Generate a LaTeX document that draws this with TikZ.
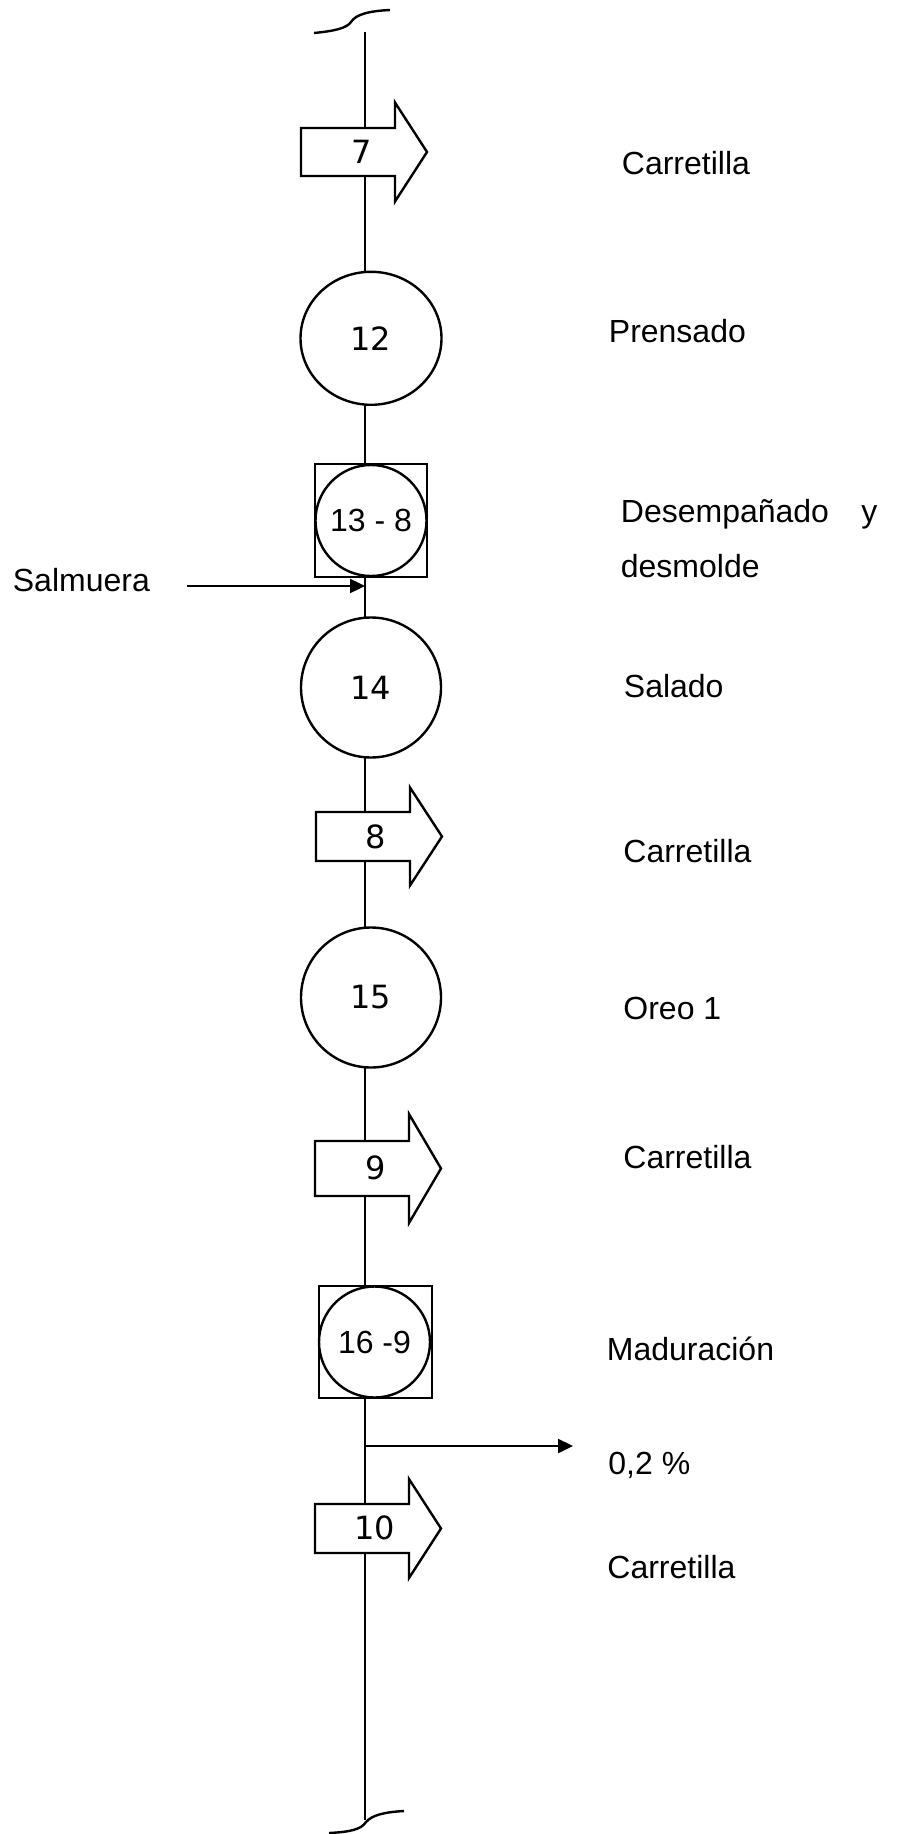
\documentclass[tikz,border=0pt]{standalone}
\usepackage{fontspec}
\setmainfont{Liberation Sans}
\newfontfamily\numfont{DejaVu Sans}
\usetikzlibrary{arrows.meta,shapes.geometric}
\tikzset{
	trazo/.style={line width=1.2pt},
	oper/.style={trazo, draw, fill=white, circle, inner sep=0pt, minimum size=70pt, font=\numfont\fontsize{16}{19}\selectfont},
	insp/.style={trazo, draw, fill=white, rectangle, inner sep=0pt, minimum size=56.25pt},
	combo/.style={trazo, draw, circle, inner sep=0pt, minimum size=55.5pt, font=\fontsize{16}{19}\selectfont},
	numtr/.style={inner sep=0pt, font=\numfont\fontsize{16}{19}\selectfont},
	etiq/.style={anchor=base west, inner sep=0pt, font=\fontsize{16}{19}\selectfont},
	flecha/.style={trazo, -{Triangle[length=7.5pt,width=7pt]}}
}
\def\carretilla(#1,#2)[#3,#4]{\draw[trazo, fill=white] (#1,{#2-#3}) -- ({#1+94},{#2-#3}) -- ({#1+94},{#2-#4}) -- ({#1+126},#2) -- ({#1+94},{#2+#4}) -- ({#1+94},{#2+#3}) -- (#1,{#2+#3}) -- cycle;}

\begin{document}
\begin{tikzpicture}[x=0.5pt, y=-0.5pt]
			%%%%% START %%%%%
			\useasboundingbox (0,0) rectangle (899,1834);
			
			\coordinate (arriba) at (365,32);
			\coordinate (abajo) at (365,1820);
			\draw[trazo] (arriba) -- (abajo);
			
			\draw[trazo] (314,33) .. controls (335,31) and (347,28) .. (351,22) .. controls (356,14) and (370,11) .. (390,10);
			\draw[trazo] (329,1833) .. controls (348,1832) and (361,1830) .. (366,1822) .. controls (372,1815) and (385,1812) .. (404,1811);
			
			\carretilla(301,152)[24,49.5]
			\node[numtr] (t7) at (362,152) {7};
			
			\node[oper, shape=ellipse, minimum width=70.5pt, minimum height=66.5pt] (o12) at (371,338.3) {12};
			
			\node[insp] (c13) at (371,520.5) {};
			\node[combo] (o13) at (c13) {13 - 8};
			
			\node[oper] (o14) at (371,687.5) {14};
			
			\carretilla(316,836.5)[24.5,49]
			\node[numtr] (t8) at (376,837) {8};
			
			\node[oper] (o15) at (371,997.5) {15};
			
			\carretilla(315,1168.5)[27.5,54.5]
			\node[numtr] (t9) at (376,1168) {9};
			
			\node[insp] (c16) at (375.5,1342) {};
			\node[combo] (o16) at (374.5,1342) {16 -9\ };
			
			\carretilla(315,1528.5)[24.5,49.5]
			\node[numtr] (t10) at (375,1528) {10};
			
			\node[etiq] (sal) at (12.5,591) {Salmuera};
			\coordinate (salIni) at (187,586);
			\coordinate (salFin) at (365,586);
			\draw[flecha] (salIni) -- (salFin);
			
			\coordinate (merma) at (365,1446);
			\coordinate (mermaFin) at (573,1446);
			\draw[flecha] (merma) -- (mermaFin);
			
			\node[etiq] (l1) at (621.5,175) {Carretilla};
			\node[etiq] (l2) at (608.5,343) {Prensado};
			\node[etiq, text width=128.25pt, align=left, font=\fontsize{16}{27.5}\selectfont] (l3) at (620.5,522) {Desempañado\hfill y\\desmolde};
			\node[etiq] (l4) at (623.5,697) {Salado};
			\node[etiq] (l5) at (623,862) {Carretilla};
			\node[etiq] (l6) at (623,1019) {Oreo 1};
			\node[etiq] (l7) at (623,1168) {Carretilla};
			\node[etiq] (l8) at (606.5,1360) {Maduración};
			\node[etiq] (l9) at (608,1474) {0,2 \%};
			\node[etiq] (l10) at (607,1578) {Carretilla};
			
			%%%%% END %%%%%
\end{tikzpicture}
\end{document}
